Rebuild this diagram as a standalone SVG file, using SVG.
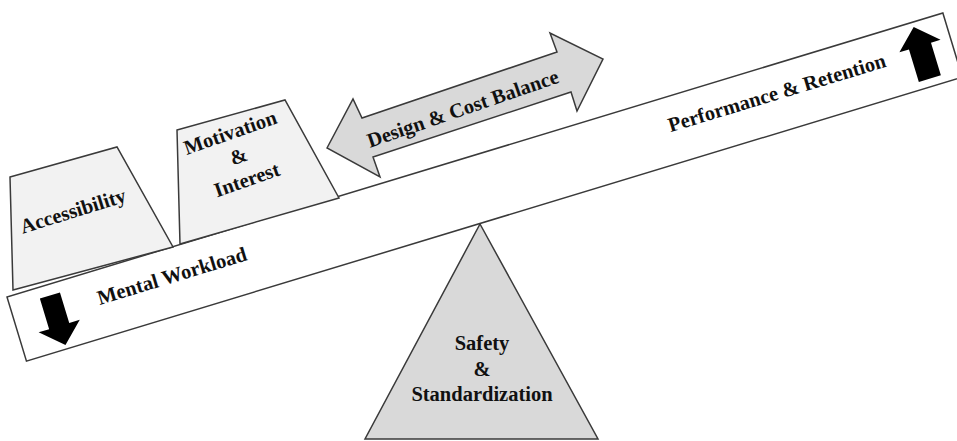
<svg xmlns="http://www.w3.org/2000/svg" width="957" height="441" viewBox="0 0 957 441">
<style>
.lbl{font-family:"Liberation Serif","Times New Roman",serif;font-weight:bold;font-size:20.5px;fill:#111;text-anchor:middle}
.edge{stroke:#3a3a3a;stroke-width:1.5;stroke-linejoin:miter}
.block{fill:#f2f2f2}
.gray{fill:#d9d9d9}
.plank{fill:#ffffff}
.blk{fill:#000}
</style>
<rect width="957" height="441" fill="#ffffff"/>
<g id="fulcrum">
<polygon class="gray edge" points="480,224 598,439 365,439"/>
<text class="lbl" x="482" y="350">Safety</text>
<text class="lbl" x="482" y="376">&amp;</text>
<text class="lbl" x="482" y="401">Standardization</text>
</g>
<g id="plank" transform="translate(7,297) rotate(-16.88)">
<rect class="plank edge" x="0" y="0" width="978" height="67"/>
<g id="mental-workload">
<polygon class="blk" points="31,11 52,11 52,43 63,43 42,63 20,43 31,43"/>
<text class="lbl" x="164" y="34.5">Mental Workload</text>
</g>
<g id="performance-retention">
<polygon class="blk" points="946,5 968,25 958,25 958,59 935,59 935,25 925,25"/>
<text class="lbl" x="796" y="35">Performance &amp; Retention</text>
</g>
</g>
<g id="accessibility">
<polygon class="block edge" points="10,177 117,147 173,247 13,290"/>
<text class="lbl" transform="translate(75,217.5) rotate(-17.2)" x="0" y="0">Accessibility</text>
</g>
<g id="motivation">
<polygon class="block edge" points="177,130 285,100 339,198 180,244"/>
<g transform="translate(232.5,139) rotate(-19.3)">
<text class="lbl" x="0" y="0">Motivation</text>
<text class="lbl" x="0" y="25">&amp;</text>
<text class="lbl" x="0" y="50">Interest</text>
</g>
</g>
<g id="design-cost">
<polygon class="gray edge" points="327,148 353,99 362,118 557,52 550,33 603,59 577,111 571,92 373,157 380,177"/>
<text class="lbl" transform="translate(465,115) rotate(-19)" x="0" y="0">Design &amp; Cost Balance</text>
</g>
<g id="connectors"></g>
</svg>
